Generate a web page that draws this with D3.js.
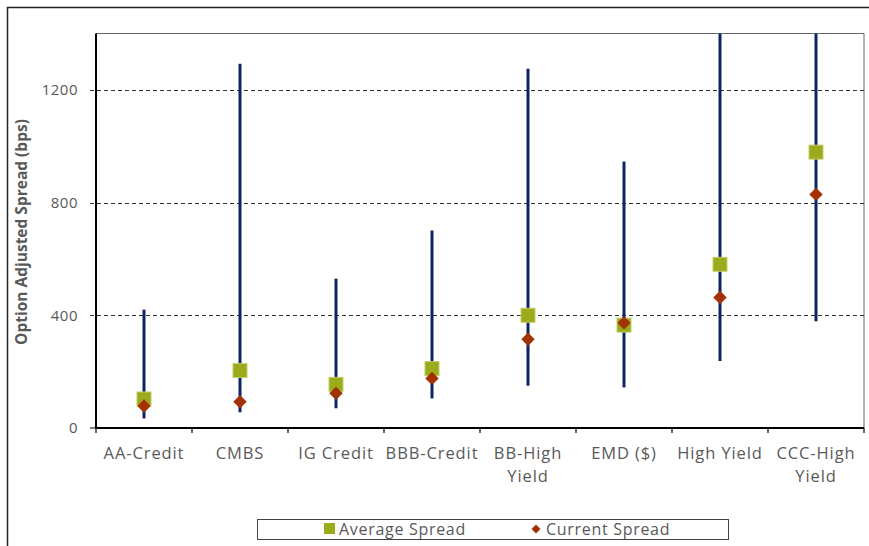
<!DOCTYPE html>
<html>
<head>
<meta charset="utf-8">
<script src="https://cdn.jsdelivr.net/npm/d3@7"></script>
<style>
  html, body { margin: 0; padding: 0; background: #fff; }
  svg { display: block; font-family: "Open Sans", Lato, sans-serif; }
</style>
</head>
<body>
<svg id="chart" width="869" height="546"></svg>
<script>
// Spread ranges by sector (bps)
const categories = ["AA-Credit", "CMBS", "IG Credit", "BBB-Credit", "BB-High Yield", "EMD ($)", "High Yield", "CCC-High Yield"];
const categoryLines = [["AA-Credit"], ["CMBS"], ["IG Credit"], ["BBB-Credit"], ["BB-High", "Yield"], ["EMD ($)"], ["High Yield"], ["CCC-High", "Yield"]];
const rangeMin = [34, 56, 70, 105, 150, 144, 238, 379];
const rangeMax = [420, 1293, 530, 701, 1275, 946, 1950, 2700];
const averageSpread = [103, 204, 155, 211, 400, 365, 581, 979];
const currentSpread = [78, 93, 123, 176, 315, 373, 463, 829];
const yTicks = [0, 400, 800, 1200];
const legendLabels = ["Average Spread", "Current Spread"];

const svg = d3.select("#chart");
const plotLeft = 96, plotRight = 864, plotTop = 33.5, plotBottom = 428;

const x = d3.scaleBand().domain(categories).range([plotLeft, plotRight]).padding(0);
const y = d3.scaleLinear().domain([0, 1400]).range([plotBottom, plotTop]);
const cx = d => x(d) + x.bandwidth() / 2;

const navy = "#0b2466", olive = "#9aab1b", rust = "#a23204", textCol = "#595959";

// outer frame
svg.append("rect").attr("x", 7.5).attr("y", 7.5).attr("width", 880).attr("height", 560)
  .attr("fill", "none").attr("stroke", "#222").attr("stroke-width", 1.5);

// plot frame (top/right)
svg.append("path")
  .attr("d", `M${plotLeft},${plotTop}H${plotRight}V${plotBottom}`)
  .attr("fill", "none").attr("stroke", "#666").attr("stroke-width", 1);

svg.append("defs").append("clipPath").attr("id", "plotClip")
  .append("rect").attr("x", plotLeft).attr("y", plotTop)
  .attr("width", plotRight - plotLeft).attr("height", plotBottom - plotTop);

// gridlines
svg.append("g").selectAll("line").data(yTicks.filter(d => d > 0)).join("line")
  .attr("x1", 90).attr("x2", plotRight)
  .attr("y1", d => Math.round(y(d)) + 0.5).attr("y2", d => Math.round(y(d)) + 0.5)
  .attr("stroke", "#333").attr("stroke-width", 1).attr("stroke-dasharray", "4,3");

// y tick labels
svg.append("g").selectAll("text").data(yTicks).join("text")
  .attr("x", 78).attr("y", d => y(d)).attr("dy", "0.35em")
  .attr("text-anchor", "end").attr("fill", textCol).attr("font-size", 15)
  .attr("letter-spacing", 0.5)
  .text(d => d);

// zero tick
svg.append("line").attr("x1", 90).attr("x2", plotLeft).attr("y1", plotBottom).attr("y2", plotBottom)
  .attr("stroke", "#000").attr("stroke-width", 1);

// range lines
const marks = svg.append("g").attr("clip-path", "url(#plotClip)");
marks.selectAll("line").data(categories).join("line")
  .attr("x1", cx).attr("x2", cx)
  .attr("y1", (d, i) => y(rangeMin[i])).attr("y2", (d, i) => y(rangeMax[i]))
  .attr("stroke", navy).attr("stroke-width", 3);

// average spread squares
const sq = 14;
svg.append("g").selectAll("rect").data(categories).join("rect")
  .attr("x", d => cx(d) - sq / 2)
  .attr("y", (d, i) => y(averageSpread[i]) - sq / 2)
  .attr("width", sq).attr("height", sq)
  .attr("fill", olive).attr("stroke", "#c3cd6a").attr("stroke-width", 1);

// current spread diamonds
const diamond = d3.symbol().type(d3.symbolSquare).size(90);
svg.append("g").selectAll("path").data(categories).join("path")
  .attr("transform", (d, i) => `translate(${cx(d)},${y(currentSpread[i])}) rotate(45)`)
  .attr("d", diamond)
  .attr("fill", rust);

// axis lines
svg.append("line").attr("x1", plotLeft).attr("x2", plotLeft).attr("y1", plotTop).attr("y2", plotBottom + 1)
  .attr("stroke", "#000").attr("stroke-width", 2);
svg.append("line").attr("x1", plotLeft).attr("x2", plotRight).attr("y1", plotBottom).attr("y2", plotBottom)
  .attr("stroke", "#000").attr("stroke-width", 2);

// x ticks at band boundaries
const bounds = categories.map(d => x(d)).concat([plotRight]);
svg.append("g").selectAll("line").data(bounds).join("line")
  .attr("x1", d => d).attr("x2", d => d).attr("y1", plotBottom).attr("y2", plotBottom + 5)
  .attr("stroke", "#333").attr("stroke-width", 1.5);

// x labels
const xl = svg.append("g").selectAll("text").data(categories).join("text")
  .attr("x", cx).attr("y", 459)
  .attr("text-anchor", "middle").attr("fill", textCol).attr("font-size", 16.5)
  .attr("letter-spacing", 0.9);
xl.each(function(d, i) {
  d3.select(this).selectAll("tspan").data(categoryLines[i]).join("tspan")
    .attr("x", cx(d)).attr("dy", (t, j) => j === 0 ? 0 : 23).text(t => t);
});

// y axis title
svg.append("text")
  .attr("transform", "translate(27,232) rotate(-90)")
  .attr("text-anchor", "middle").attr("fill", textCol)
  .attr("font-size", 15.5).attr("font-weight", "bold")
  .text("Option Adjusted Spread (bps)");

// legend
const lg = svg.append("g");
lg.append("rect").attr("x", 257.5).attr("y", 519.5).attr("width", 471).attr("height", 20)
  .attr("fill", "#fff").attr("stroke", "#444").attr("stroke-width", 1);
lg.append("rect").attr("x", 324).attr("y", 523).attr("width", 11).attr("height", 11).attr("fill", olive);
lg.append("text").attr("x", 339).attr("y", 529.5).attr("dy", "0.35em")
  .attr("fill", textCol).attr("font-size", 16).attr("letter-spacing", 0.7).text(legendLabels[0]);
lg.append("path").attr("transform", "translate(536,529) rotate(45)")
  .attr("d", d3.symbol().type(d3.symbolSquare).size(40)).attr("fill", rust);
lg.append("text").attr("x", 546).attr("y", 529.5).attr("dy", "0.35em")
  .attr("fill", textCol).attr("font-size", 16).attr("letter-spacing", 0.7).text(legendLabels[1]);
</script>
</body>
</html>
